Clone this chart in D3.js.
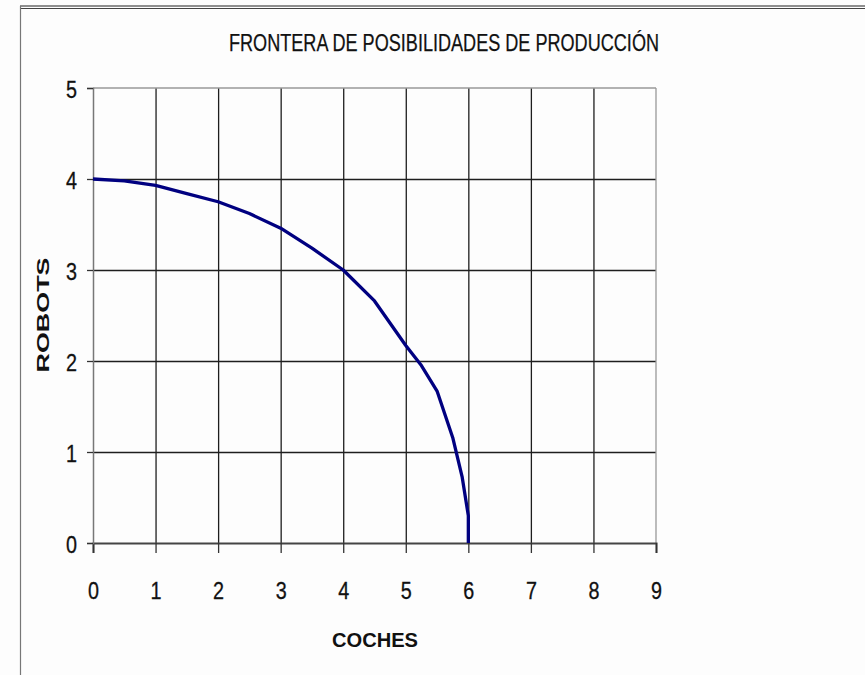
<!DOCTYPE html>
<html>
<head>
<meta charset="utf-8">
<script src="https://cdn.jsdelivr.net/npm/d3@7"></script>
<style>
  body { margin: 0; background: #fdfdfd; }
  svg { display: block; }
</style>
</head>
<body>
<div id="chart"></div>
<script>
// data
var coches = [0, 0.5, 1, 1.5, 2, 2.5, 3, 3.5, 4, 4.5, 5, 5.25, 5.5, 5.75, 5.9, 6, 6];
var robots = [4, 3.98, 3.93, 3.84, 3.75, 3.62, 3.46, 3.24, 3.0, 2.66, 2.17, 1.95, 1.67, 1.16, 0.73, 0.3, 0];
var xTicks = [0, 1, 2, 3, 4, 5, 6, 7, 8, 9];
var yTicks = [0, 1, 2, 3, 4, 5];
var titulo = "FRONTERA DE POSIBILIDADES DE PRODUCCIÓN";
var xLabel = "COCHES";
var yLabel = "ROBOTS";

var svgWidth = 865;
var svgHeight = 675;
var margin = { top: 88, left: 93 };
var width = 656 - 93;
var height = 543 - 88;

var narrow = "'Liberation Sans Narrow', 'Arial Narrow', 'Liberation Sans', Arial, sans-serif";
var wide = "'Liberation Sans', Arial, sans-serif";

var svg = d3.select("#chart")
  .append("svg")
  .attr("width", svgWidth)
  .attr("height", svgHeight);

// outer frame: double line on top, single line at left
svg.append("line").attr("x1", 20).attr("x2", svgWidth).attr("y1", 6).attr("y2", 6)
  .attr("stroke", "#222").attr("stroke-width", 1.2);
svg.append("line").attr("x1", 20).attr("x2", svgWidth).attr("y1", 8.5).attr("y2", 8.5)
  .attr("stroke", "#444").attr("stroke-width", 1.2);
svg.append("line").attr("x1", 20.5).attr("x2", 20.5).attr("y1", 6).attr("y2", svgHeight)
  .attr("stroke", "#777").attr("stroke-width", 1.2);

var chartGroup = svg.append("g")
  .attr("transform", `translate(${margin.left}, ${margin.top})`);

var xScale = d3.scaleLinear().domain([0, 9]).range([0, width]);
var yScale = d3.scaleLinear().domain([0, 5]).range([height, 0]);

// grid lines
chartGroup.append("g")
  .attr("class", "grid")
  .attr("transform", `translate(0, ${height})`)
  .call(d3.axisBottom(xScale).tickValues(xTicks.slice(1, -1)).tickSize(-height).tickFormat(""))
  .call(g => g.select(".domain").remove())
  .selectAll("line").attr("stroke", "#1e1e1e").attr("stroke-width", 1.3);

chartGroup.append("g")
  .attr("class", "grid")
  .call(d3.axisLeft(yScale).tickValues(yTicks.slice(1, -1)).tickSize(-width).tickFormat(""))
  .call(g => g.select(".domain").remove())
  .selectAll("line").attr("stroke", "#1e1e1e").attr("stroke-width", 1.3);

// top and right edges of the plot area (lighter)
chartGroup.append("line")
  .attr("x1", 0).attr("x2", width).attr("y1", yScale(5)).attr("y2", yScale(5))
  .attr("stroke", "#999").attr("stroke-width", 1.3);
chartGroup.append("line")
  .attr("x1", xScale(9)).attr("x2", xScale(9)).attr("y1", 0).attr("y2", height)
  .attr("stroke", "#999").attr("stroke-width", 1.3);

// axes
var bottomAxis = d3.axisBottom(xScale).tickValues(xTicks).tickSize(10).tickPadding(30).tickFormat(d3.format("d"));
var leftAxis = d3.axisLeft(yScale).tickValues(yTicks).tickSize(6).tickPadding(10).tickFormat(d3.format("d"));

var xAxisG = chartGroup.append("g")
  .attr("transform", `translate(0, ${height})`)
  .call(bottomAxis);
xAxisG.select(".domain").attr("stroke", "#444").attr("stroke-width", 2);
xAxisG.selectAll("line").attr("stroke", "#333").attr("stroke-width", 1.3);
xAxisG.selectAll("text")
  .attr("font-family", narrow).attr("font-size", "23px").attr("fill", "#111")
  .attr("stroke", "#111").attr("stroke-width", 0.3)
  .attr("textLength", 11).attr("lengthAdjust", "spacingAndGlyphs");

var yAxisG = chartGroup.append("g")
  .call(leftAxis);
yAxisG.select(".domain").attr("stroke", "#777").attr("stroke-width", 1.5);
yAxisG.selectAll("line").attr("stroke", "#333").attr("stroke-width", 1.3);
yAxisG.selectAll("text")
  .attr("dy", "0.42em")
  .attr("font-family", narrow).attr("font-size", "23px").attr("fill", "#111")
  .attr("stroke", "#111").attr("stroke-width", 0.3)
  .attr("textLength", 11).attr("lengthAdjust", "spacingAndGlyphs");

// frontier curve
var line = d3.line()
  .x((d, i) => xScale(coches[i]))
  .y(d => yScale(d));

chartGroup.append("path")
  .datum(robots)
  .attr("d", line)
  .attr("fill", "none")
  .attr("stroke", "#000080")
  .attr("stroke-width", 3.3)
  .attr("stroke-linejoin", "round");

// title
svg.append("text")
  .attr("x", 444)
  .attr("y", 51)
  .attr("text-anchor", "middle")
  .attr("font-family", narrow)
  .attr("font-size", "23px")
  .attr("fill", "#111")
  .attr("stroke", "#111").attr("stroke-width", 0.25)
  .attr("textLength", 430)
  .attr("lengthAdjust", "spacingAndGlyphs")
  .text(titulo);

// axis labels
svg.append("text")
  .attr("transform", "translate(49, 315) rotate(-90)")
  .attr("text-anchor", "middle")
  .attr("font-family", wide)
  .attr("font-weight", "bold")
  .attr("font-size", "17px")
  .attr("fill", "#111")
  .attr("textLength", 115)
  .attr("lengthAdjust", "spacingAndGlyphs")
  .text(yLabel);

svg.append("text")
  .attr("x", 375)
  .attr("y", 647)
  .attr("text-anchor", "middle")
  .attr("font-family", wide)
  .attr("font-weight", "bold")
  .attr("font-size", "20px")
  .attr("fill", "#111")
  .attr("textLength", 86)
  .attr("lengthAdjust", "spacingAndGlyphs")
  .text(xLabel);
</script>
</body>
</html>
